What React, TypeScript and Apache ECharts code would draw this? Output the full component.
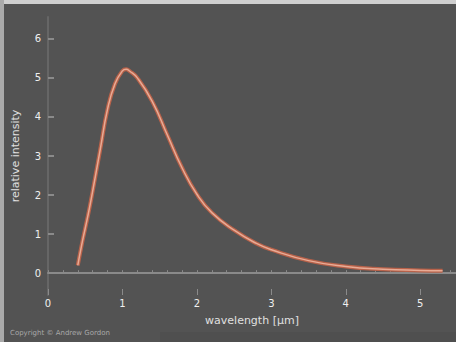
import React, { useEffect, useRef } from "react";
import * as echarts from "echarts";

const wavelength = [0.4, 0.45, 0.5, 0.55, 0.6, 0.7, 0.8, 0.9, 1.0, 1.05, 1.1, 1.2, 1.4, 1.6, 1.8, 2.0, 2.2, 2.5, 2.8, 3.0, 3.5, 4.0, 4.5, 5.0, 5.3];
const intensity = [0.2, 0.7, 1.15, 1.6, 2.1, 3.15, 4.2, 4.85, 5.18, 5.22, 5.17, 5.0, 4.4, 3.55, 2.7, 2.02, 1.55, 1.1, 0.76, 0.6, 0.32, 0.17, 0.1, 0.07, 0.06];
const xTickLabels = [0, 1, 2, 3, 4, 5];
const yTickLabels = [0, 1, 2, 3, 4, 5, 6];

export default function App() {
  const ref = useRef<HTMLDivElement>(null);
  useEffect(() => {
    if (!ref.current) return;
    const chart = echarts.init(ref.current, null, { renderer: "svg" });
    const pts = wavelength.map((w, i) => [w, intensity[i]]);
    const labelColor = "#f0f0f0";
    chart.setOption({
      animation: false,
      backgroundColor: "#535353",
      grid: { left: 48, right: 0, top: 17, bottom: 47 },
      xAxis: [
        {
          type: "value",
          min: 0,
          max: 5.48,
          interval: 0.2,
          axisLine: { show: true, lineStyle: { color: "#8a8a8a", width: 2 } },
          axisTick: { show: true, inside: true, length: 3, lineStyle: { color: "#8a8a8a" } },
          axisLabel: {
            customValues: xTickLabels,
            color: labelColor,
            fontSize: 10,
            margin: 3,
            fontFamily: "DejaVu Sans",
          },
          splitLine: { show: false },
          name: "wavelength [μm]",
          nameLocation: "middle",
          nameGap: 20,
          nameTextStyle: { color: "#e0e0e0", fontSize: 11, fontFamily: "DejaVu Sans" },
        },
        {
          type: "value",
          min: 0,
          max: 5.48,
          position: "bottom",
          axisLine: { show: false },
          axisTick: { show: true, inside: true, length: 6, customValues: xTickLabels, lineStyle: { color: "#8a8a8a" } },
          axisLabel: { show: false },
          splitLine: { show: false },
        },
      ],
      yAxis: {
        type: "value",
        min: -0.56,
        max: 6.56,
        offset: 2,
        axisLine: { show: true, lineStyle: { color: "#666666", width: 2 } },
        axisTick: { show: true, inside: true, length: 6, customValues: yTickLabels, lineStyle: { color: "#8a8a8a", width: 2 } },
        axisLabel: {
          customValues: yTickLabels,
          color: labelColor,
          fontSize: 10,
          margin: 5,
          fontFamily: "DejaVu Sans",
        },
        splitLine: { show: false },
        name: "relative intensity",
        nameLocation: "middle",
        nameGap: 25,
        nameTextStyle: { color: "#e0e0e0", fontSize: 11, fontFamily: "DejaVu Sans" },
      },
      graphic: [
        { type: "rect", shape: { x: 0, y: 0, width: 456, height: 4 }, style: { fill: "#cfcfcf" }, z: 100 },
        { type: "rect", shape: { x: 0, y: 0, width: 4, height: 342 }, style: { fill: "#aaaaaa" }, z: 100 },
        { type: "rect", shape: { x: 160, y: 332, width: 296, height: 10 }, style: { fill: "#4f4f4f" }, z: -1 },
        {
          type: "text",
          x: 10,
          y: 333,
          style: {
            text: "Copyright © Andrew Gordon",
            fill: "#a8a8a8",
            fontSize: 7,
            fontFamily: "DejaVu Sans",
            verticalAlign: "middle",
          },
        },
      ],
      series: [
        {
          type: "line",
          data: pts,
          smooth: true,
          showSymbol: false,
          lineStyle: { color: "#b8624a", width: 4 },
          z: 2,
        },
        {
          type: "line",
          data: pts,
          smooth: true,
          showSymbol: false,
          lineStyle: { color: "#e8ab95", width: 1.5 },
          z: 3,
        },
      ],
    });
    return () => chart.dispose();
  }, []);
  return (
    <div
      ref={ref}
      style={{ position: "fixed", left: 0, top: 0, width: 456, height: 342 }}
    />
  );
}
